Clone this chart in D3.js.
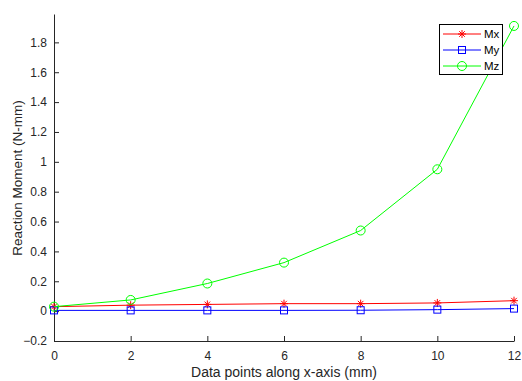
<!DOCTYPE html>
<html><head><meta charset="utf-8">
<script src="https://cdn.jsdelivr.net/npm/d3@7"></script>
<style>body{margin:0;background:#fff}svg{display:block}text{font-family:"Liberation Sans",Arial,sans-serif}</style>
</head><body><svg id="c" width="522" height="381"></svg>
<script>
const xs = [0, 2, 4, 6, 8, 10, 12];
const mx = [0.03, 0.04, 0.045, 0.05, 0.05, 0.055, 0.07];
const my = [0.005, 0.005, 0.005, 0.005, 0.006, 0.01, 0.017];
const mz = [0.03, 0.075, 0.185, 0.325, 0.54, 0.95, 1.91];
const xTicks = [0, 2, 4, 6, 8, 10, 12];
const yTicks = [-0.2, 0, 0.2, 0.4, 0.6, 0.8, 1, 1.2, 1.4, 1.6, 1.8];
const seriesNames = ["Mx", "My", "Mz"];
const seriesColors = ["#ff0000", "#0000ff", "#00ff00"];

const svg = d3.select("#c");
const L = 54, R = 514, T = 14, B = 341;
const x = d3.scaleLinear().domain([0, 12]).range([L, R]);
const y = d3.scaleLinear().domain([-0.2, 1.99]).range([B, T]);
const axisCol = "#262626";

const xa = svg.append("g").attr("transform", `translate(0,${B})`)
  .call(d3.axisBottom(x).tickValues(xTicks).tickSizeInner(-5).tickSizeOuter(0).tickPadding(10).tickFormat(d3.format("d")));
const ya = svg.append("g").attr("transform", `translate(${L},0)`)
  .call(d3.axisLeft(y).tickValues(yTicks).tickSizeInner(-5).tickSizeOuter(0).tickPadding(7).tickFormat(d => d === 0 ? "0" : d3.format("")(+d.toFixed(1))));
[xa, ya].forEach(g => {
  g.select(".domain").attr("stroke", axisCol);
  g.selectAll(".tick line").attr("stroke", axisCol);
  g.selectAll(".tick text").attr("fill", axisCol).attr("font-size", 12).attr("font-family", '"Liberation Sans",Arial,sans-serif');
});

svg.append("text").attr("x", 284).attr("y", 377).attr("text-anchor", "middle")
  .attr("font-size", 14).attr("fill", axisCol).text("Data points along x-axis (mm)");
svg.append("text").attr("transform", `translate(22,178) rotate(-90)`).attr("text-anchor", "middle")
  .attr("font-size", 13.5).attr("fill", axisCol).text("Reaction Moment (N-mm)");

const data = [mx, my, mz];
const line = d3.line().x((d, i) => x(xs[i])).y(d => y(d));

function marker(g, k, cx, cy, col) {
  if (k === 0) {
    const s = 4;
    [[-s, 0, s, 0], [0, -s, 0, s], [-s * 0.7, -s * 0.7, s * 0.7, s * 0.7], [-s * 0.7, s * 0.7, s * 0.7, -s * 0.7]].forEach(a =>
      g.append("line").attr("x1", cx + a[0]).attr("y1", cy + a[1]).attr("x2", cx + a[2]).attr("y2", cy + a[3]).attr("stroke", col).attr("stroke-width", 1));
  } else if (k === 1) {
    g.append("rect").attr("x", cx - 3.5).attr("y", cy - 3.5).attr("width", 7).attr("height", 7).attr("fill", "none").attr("stroke", col);
  } else {
    g.append("circle").attr("cx", cx).attr("cy", cy).attr("r", 4.5).attr("fill", "none").attr("stroke", col);
  }
}

data.forEach((vals, k) => {
  const g = svg.append("g");
  g.append("path").attr("d", line(vals)).attr("fill", "none").attr("stroke", seriesColors[k]).attr("stroke-width", 1);
  vals.forEach((v, i) => marker(g, k, x(xs[i]), y(v), seriesColors[k]));
});

// legend
const lg = svg.append("g");
lg.append("rect").attr("x", 439.5).attr("y", 24.5).attr("width", 63).attr("height", 50).attr("fill", "#fff").attr("stroke", "#000");
seriesNames.forEach((n, k) => {
  const yy = 34 + k * 16;
  lg.append("line").attr("x1", 443).attr("x2", 481).attr("y1", yy).attr("y2", yy).attr("stroke", seriesColors[k]);
  marker(lg, k, 462, yy, seriesColors[k]);
  lg.append("text").attr("x", 484).attr("y", yy + 4).attr("font-size", 11.5).attr("fill", "#000").text(n);
});
</script></body></html>
